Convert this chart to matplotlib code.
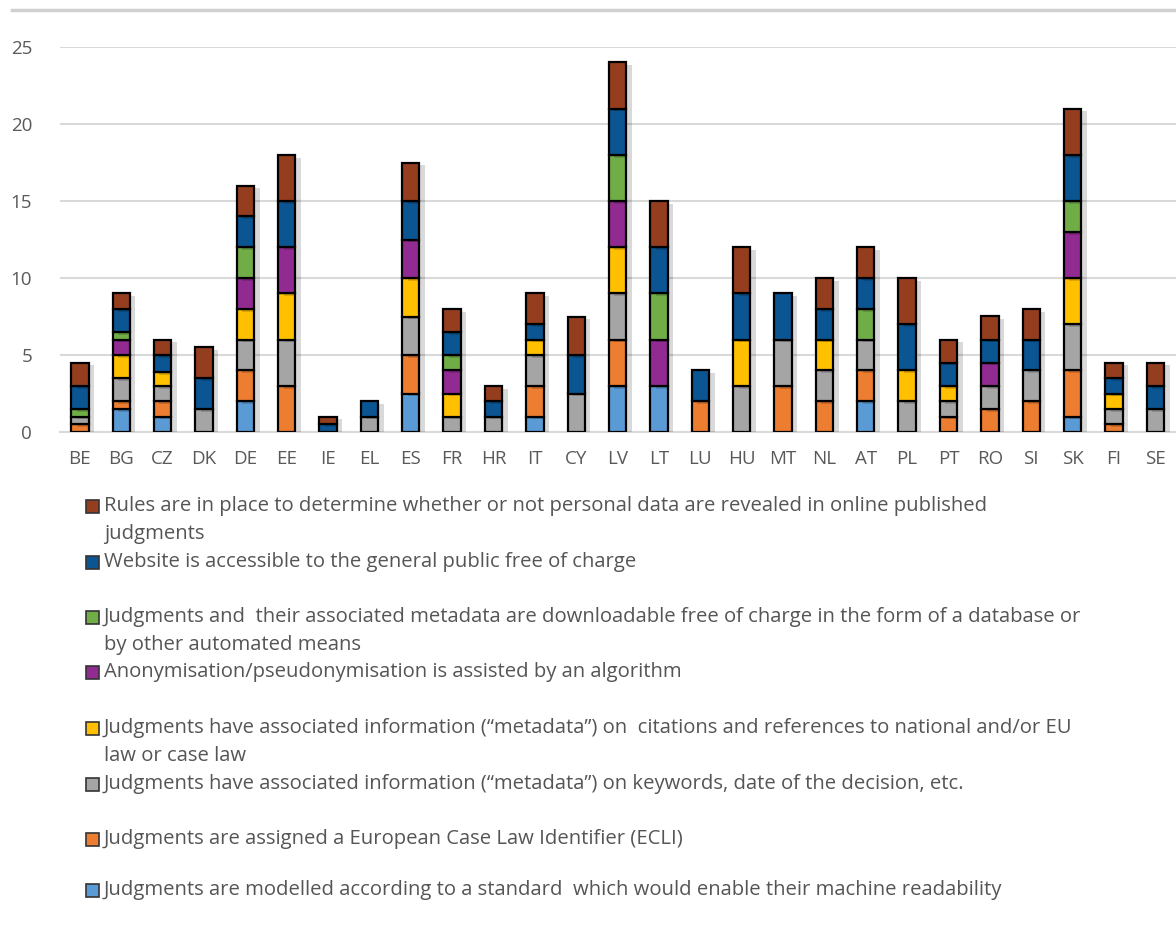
import numpy as np
import matplotlib
matplotlib.use("Agg")
import matplotlib.pyplot as plt
import matplotlib.patheffects as pe
from matplotlib.patches import Rectangle
from matplotlib.lines import Line2D

plt.rcParams['font.family'] = ['Open Sans', 'DejaVu Sans']

countries = ['BE', 'BG', 'CZ', 'DK', 'DE', 'EE', 'IE', 'EL', 'ES', 'FR', 'HR', 'IT', 'CY', 'LV',
             'LT', 'LU', 'HU', 'MT', 'NL', 'AT', 'PL', 'PT', 'RO', 'SI', 'SK', 'FI', 'SE']

# stacked from bottom to top
machine_readable = [0, 1.5, 1, 0, 2, 0, 0, 0, 2.5, 0, 0, 1, 0, 3, 3, 0, 0, 0, 0, 2, 0, 0, 0, 0, 1, 0, 0]
ecli             = [0.5, 0.5, 1, 0, 2, 3, 0, 0, 2.5, 0, 0, 2, 0, 3, 0, 2, 0, 3, 2, 2, 0, 1, 1.5, 2, 3, 0.5, 0]
keywords_meta    = [0.5, 1.5, 1, 1.5, 2, 3, 0, 1, 2.5, 1, 1, 2, 2.5, 3, 0, 0, 3, 3, 2, 2, 2, 1, 1.5, 2, 3, 1, 1.5]
citations_meta   = [0, 1.5, 0.9, 0, 2, 3, 0, 0, 2.5, 1.5, 0, 1, 0, 3, 0, 0, 3, 0, 2, 0, 2, 1, 0, 0, 3, 1, 0]
anonymisation    = [0, 1, 0, 0, 2, 3, 0, 0, 2.5, 1.5, 0, 0, 0, 3, 3, 0, 0, 0, 0, 0, 0, 0, 1.5, 0, 3, 0, 0]
downloadable     = [0.5, 0.5, 0, 0, 2, 0, 0, 0, 0, 1, 0, 0, 0, 3, 3, 0, 0, 0, 0, 2, 0, 0, 0, 0, 2, 0, 0]
website_free     = [1.5, 1.5, 1.1, 2, 2, 3, 0.5, 1, 2.5, 1.5, 1, 1, 2.5, 3, 3, 2, 3, 3, 2, 2, 3, 1.5, 1.5, 2, 3, 1, 1.5]
personal_rules   = [1.5, 1, 1, 2, 2, 3, 0.5, 0, 2.5, 1.5, 1, 2, 2.5, 3, 3, 0, 3, 0, 2, 2, 3, 1.5, 1.5, 2, 3, 1, 1.5]

series = [machine_readable, ecli, keywords_meta, citations_meta,
          anonymisation, downloadable, website_free, personal_rules]
colors = ['#5B9BD5', '#ED7D31', '#A5A5A5', '#FFC000',
          '#922B91', '#70AD47', '#0B5592', '#953E1F']
labels = [
    ['Judgments are modelled according to a standard  which would enable their machine readability'],
    ['Judgments are assigned a European Case Law Identifier (ECLI)'],
    ['Judgments have associated information (\u201cmetadata\u201d) on keywords, date of the decision, etc.'],
    ['Judgments have associated information (\u201cmetadata\u201d) on  citations and references to national and/or EU',
     'law or case law'],
    ['Anonymisation/pseudonymisation is assisted by an algorithm'],
    ['Judgments and  their associated metadata are downloadable free of charge in the form of a database or',
     'by other automated means'],
    ['Website is accessible to the general public free of charge'],
    ['Rules are in place to determine whether or not personal data are revealed in online published',
     'judgments'],
]

W, H = 1176, 931
fig = plt.figure(figsize=(W / 100, H / 100), dpi=100)
ax = fig.add_axes([60 / W, 1 - 432 / H, 1 - 60 / W, (432 - 47) / H])

x = np.arange(len(countries))
bottom = np.zeros(len(countries))
shadow = [pe.SimplePatchShadow(offset=(4, -2), alpha=0.15, shadow_rgbFace='black'), pe.Normal()]
for vals, col in zip(series, colors):
    vals = np.array(vals, dtype=float)
    bars = ax.bar(x, vals, 0.42, bottom=bottom, color=col, edgecolor='black',
                  linewidth=1.6, zorder=3)
    for b, v in zip(bars, vals):
        if v > 0:
            b.set_path_effects(shadow)
        else:
            b.set_visible(False)
    bottom += vals

ax.set_xlim(-0.48, 26.5)
ax.set_ylim(0, 25)
ax.set_yticks(range(0, 26, 5))
ax.grid(axis='y', color='#D9D9D9', linewidth=1.5, zorder=0)
for s in ['top', 'right', 'left']:
    ax.spines[s].set_visible(False)
ax.spines['bottom'].set_color('#D9D9D9')
ax.spines['bottom'].set_linewidth(1.5)
ax.set_xticks(x)
ax.set_xticklabels(countries)
ax.tick_params(axis='both', length=0, labelsize=13.5, colors='#595959')
ax.tick_params(axis='x', pad=13)
ax.tick_params(axis='y', pad=20)

# top border line
fig.add_artist(Line2D([12 / W, 1], [1 - 10 / H, 1 - 10 / H], color='#D0D0D0', linewidth=2.5))

# legend, drawn by hand (top entry = last series)
ypos = [890, 839, 784, 728, 672, 617, 562, 506]
for lab, col, yp in zip(labels, colors, ypos):
    sq = 13
    fig.add_artist(Rectangle((86 / W, 1 - (yp + sq / 2) / H), sq / W, sq / H,
                             facecolor=col, edgecolor='#333333', linewidth=1.2))
    for i, line in enumerate(lab):
        fig.text(104 / W, 1 - (yp + i * 28) / H, line, fontsize=14.6, color='#555555',
                 va='center', ha='left')

plt.savefig('out.png', dpi=100)
